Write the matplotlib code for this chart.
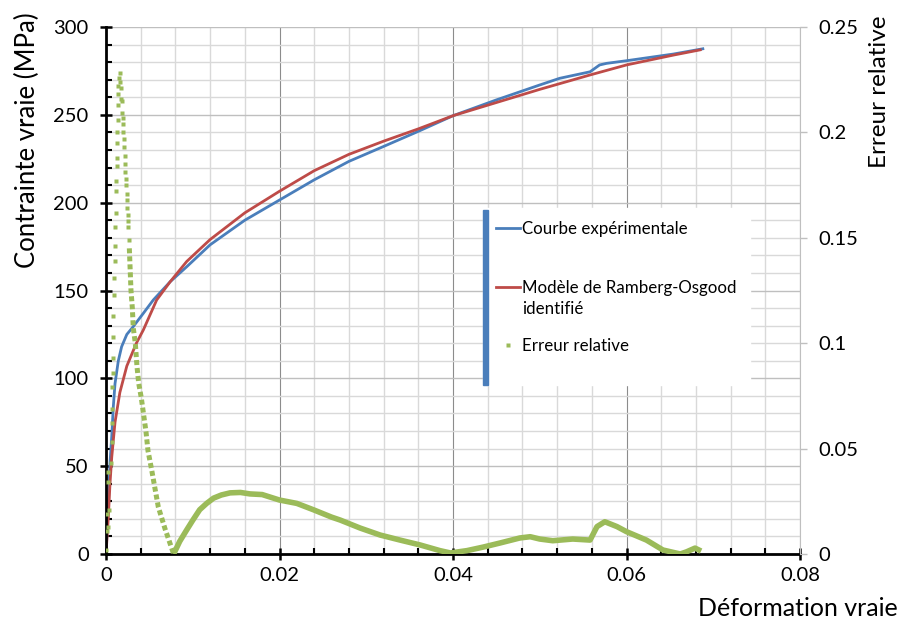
import matplotlib
matplotlib.use("Agg")
import matplotlib.pyplot as plt
from matplotlib.ticker import MultipleLocator, FuncFormatter
from matplotlib.lines import Line2D
from matplotlib.patches import Rectangle

plt.rcParams["font.family"] = ["Lato", "DejaVu Sans"]

# courbe experimentale (deformation, contrainte MPa)
exp_eps = [0, 0.0002, 0.00046, 0.00066, 0.00084, 0.00104, 0.00142, 0.0018, 0.0024,
           0.00315, 0.0043, 0.00545, 0.0074, 0.0093, 0.012, 0.016, 0.020, 0.024,
           0.028, 0.032, 0.036, 0.040, 0.045, 0.050, 0.0523, 0.0558, 0.0569,
           0.0577, 0.060, 0.0627, 0.0654, 0.0688]
exp_sig = [0, 20, 51.8, 66.7, 83.7, 97, 110, 118, 125,
           129.5, 137, 144.6, 155, 163.5, 176, 190, 201.5, 213,
           223.5, 232, 240.6, 249.5, 258.5, 267, 270.8, 274.5, 278.4,
           279.3, 280.8, 282.7, 284.6, 287.6]

# modele de Ramberg-Osgood identifie
ro_eps = [0, 0.00027, 0.00046, 0.00066, 0.00104, 0.0016, 0.0024, 0.0035, 0.0043,
          0.00584, 0.0074, 0.0093, 0.012, 0.016, 0.020, 0.024, 0.028, 0.032,
          0.036, 0.040, 0.045, 0.050, 0.0558, 0.060, 0.0654, 0.0685]
ro_sig = [0, 21, 40, 55, 75, 92, 107, 120, 127.5,
          144.6, 155, 166.5, 179, 194.2, 206.5, 218.2, 227.5, 235,
          242, 249.5, 257, 264.5, 272.7, 278.4, 284, 287]

# erreur relative, debut (points isoles)
err_eps_a = [0.00005, 0.0001, 0.0001, 0.00027, 0.00038, 0.00027, 0.00027, 0.00058,
             0.00066, 0.00066, 0.0007, 0.00072, 0.00077, 0.00081, 0.00081, 0.00085,
             0.00092, 0.00094, 0.00101, 0.00104, 0.00107, 0.00111, 0.00115, 0.00119,
             0.00123, 0.00125, 0.00127, 0.00131, 0.00134, 0.00134, 0.00137,
             0.00144, 0.00151, 0.00161, 0.00163,
             0.00173, 0.00178, 0.00184, 0.00184, 0.00192, 0.002, 0.002, 0.00207,
             0.00211, 0.00215, 0.00219, 0.00223, 0.00227, 0.00231, 0.00238, 0.00242,
             0.00246, 0.0025, 0.00254, 0.00257, 0.00265]
err_a = [0.002, 0.011, 0.019, 0.034, 0.021, 0.013, 0.039, 0.043,
         0.053, 0.062, 0.069, 0.079, 0.086, 0.093, 0.103, 0.113,
         0.123, 0.131, 0.139, 0.146, 0.155, 0.162, 0.172, 0.177,
         0.184, 0.188, 0.195, 0.200, 0.206, 0.213, 0.218,
         0.222, 0.226, 0.224, 0.228,
         0.221, 0.216, 0.215, 0.209, 0.207, 0.204, 0.200, 0.197,
         0.193, 0.189, 0.185, 0.181, 0.178, 0.175, 0.171, 0.168,
         0.164, 0.161, 0.158, 0.155, 0.149]

# erreur relative, descente (points rapproches)
err_eps_c = [0.00269, 0.00288, 0.00303, 0.00315, 0.00338, 0.00357, 0.00377, 0.00407,
             0.00434, 0.00461, 0.00484, 0.00526, 0.00565, 0.00603, 0.0068, 0.0078]
err_c = [0.145, 0.125, 0.117, 0.107, 0.100, 0.089, 0.081, 0.074,
         0.066, 0.058, 0.049, 0.040, 0.031, 0.0223, 0.012, 0.0]

# erreur relative, suite (points serres)
err_eps_b = [0.0078, 0.0085, 0.0093, 0.0100, 0.0108, 0.0116,
             0.0124, 0.0133, 0.0143, 0.0155, 0.0166, 0.018, 0.020, 0.022, 0.0239,
             0.026, 0.027, 0.0293, 0.0316, 0.0339, 0.0362, 0.0385, 0.0397, 0.0416,
             0.0435, 0.0454, 0.0477, 0.0489, 0.050, 0.0515, 0.0538, 0.0558, 0.0566,
             0.0575, 0.0589, 0.060, 0.0623, 0.0642, 0.0662, 0.0669, 0.0679, 0.0686]
err_b = [0.0, 0.006, 0.0114, 0.016, 0.021, 0.024,
         0.0265, 0.028, 0.029, 0.0292, 0.0285, 0.0282, 0.0256, 0.024, 0.021,
         0.0175, 0.0161, 0.0123, 0.009, 0.0066, 0.0043, 0.0016, 0.0005, 0.0016,
         0.0033, 0.0052, 0.0076, 0.0082, 0.0071, 0.0063, 0.0071, 0.0066, 0.0130,
         0.0153, 0.013, 0.0106, 0.0066, 0.0019, 0.0, 0.001, 0.0028, 0.0014]

legend_labels = ["Courbe expérimentale", "Modèle de Ramberg-Osgood\nidentifié",
                 "Erreur relative"]

blue = "#4A7EBB"
red = "#BE4B48"
green = "#9BBB59"

fig = plt.figure(figsize=(9, 6.22), dpi=100)
ax = fig.add_axes([106 / 900, 68 / 622, 694 / 900, 527 / 622])
ax2 = ax.twinx()

ax.plot(exp_eps, exp_sig, color=blue, lw=2)
ax.plot(ro_eps, ro_sig, color=red, lw=2)
ax2.plot(err_eps_a, err_a, ls="none", marker="s", ms=3.2, color=green, mec="none")
ax2.plot(err_eps_c, err_c, ls=(0, (1, 0.6)), lw=3.6, color=green)
ax2.plot(err_eps_b, err_b, color=green, lw=4, solid_capstyle="butt")

ax.set_xlim(0, 0.08)
ax.set_ylim(0, 300)
ax2.set_ylim(0, 0.25)

ax.xaxis.set_major_locator(MultipleLocator(0.02))
ax.xaxis.set_minor_locator(MultipleLocator(0.004))
ax.yaxis.set_major_locator(MultipleLocator(50))
ax.yaxis.set_minor_locator(MultipleLocator(10))
ax2.yaxis.set_major_locator(MultipleLocator(0.05))

fmt = FuncFormatter(lambda v, p: "0" if abs(v) < 1e-12 else f"{v:g}")
ax.xaxis.set_major_formatter(fmt)
ax2.yaxis.set_major_formatter(fmt)

ax.grid(which="minor", color="#D9D9D9", lw=1)
ax.grid(which="major", axis="y", color="#BFBFBF", lw=1)
ax.grid(which="major", axis="x", color="#8C8C8C", lw=0.8)
ax.set_axisbelow(True)

for a in (ax, ax2):
    a.spines["top"].set_visible(False)
ax.spines["right"].set_visible(False)
ax2.spines["left"].set_visible(False)
ax2.spines["bottom"].set_visible(False)
ax.spines["left"].set_linewidth(2)
ax.spines["bottom"].set_linewidth(2)
ax2.spines["right"].set_color("#BFBFBF")

ax.tick_params(axis="both", which="major", direction="inout", length=9, width=1.8,
               labelsize=14.5, color="black")
ax.tick_params(axis="y", pad=8)
ax.tick_params(axis="x", pad=5)
ax.tick_params(axis="both", which="minor", direction="in", length=4, width=1.5)
ax2.tick_params(axis="y", which="major", direction="out", length=5, width=1,
                color="#BFBFBF", labelsize=14.5, pad=8)

fig.text(0.031, 1 - 12 / 622, "Contrainte vraie (MPa)", rotation=90, ha="center",
         va="top", fontsize=18.5)
fig.text(880 / 900, 1 - 15 / 622, "Erreur relative", rotation=90, ha="center",
         va="top", fontsize=17.5)
fig.text(0.998, 1 - 608 / 622, "Déformation vraie", ha="right", va="center",
         fontsize=18)

# legende dessinee a la main, facon Excel
def fx(px):
    return px / 900

def fy(py):
    return 1 - py / 622

fig.patches.append(Rectangle((fx(483), fy(385)), fx(750) - fx(483), fy(208) - fy(385),
                             transform=fig.transFigure, color="white", zorder=9))
fig.patches.append(Rectangle((fx(483), fy(385)), 5 / 900, 175 / 622,
                             transform=fig.transFigure, color=blue, zorder=10))
fig.lines.append(Line2D([fx(496), fx(520)], [fy(228), fy(228)], color=blue, lw=2,
                        transform=fig.transFigure, zorder=10))
fig.lines.append(Line2D([fx(496), fx(520)], [fy(287), fy(287)], color=red, lw=2,
                        transform=fig.transFigure, zorder=10))
fig.lines.append(Line2D([fx(508)], [fy(345)], ls="none", marker="s", ms=3,
                        color=green, mec="none", transform=fig.transFigure, zorder=10))
for lab, ytop in zip(legend_labels, [221, 280, 338]):
    fig.text(fx(522), fy(ytop), lab, ha="left", va="top", fontsize=12.2,
             linespacing=1.4, zorder=11)

fig.savefig("out.png", dpi=100)
